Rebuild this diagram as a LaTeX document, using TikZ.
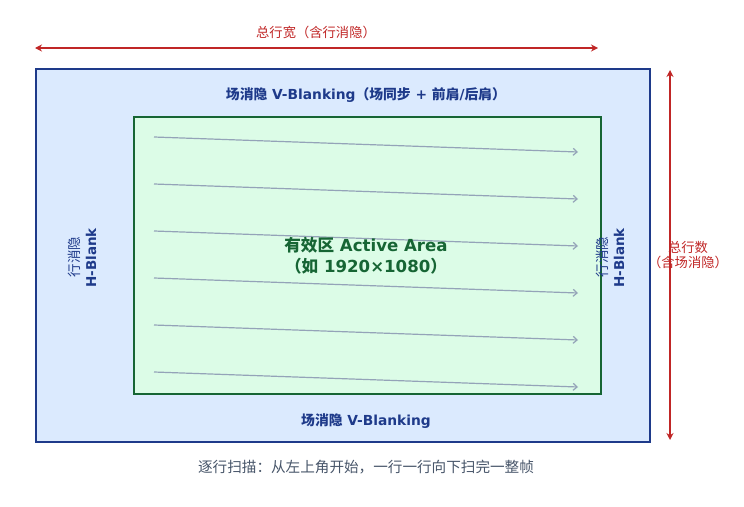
\documentclass[tikz,border=0pt]{standalone}
\usepackage{fontspec}
\setmainfont{DejaVu Sans}
\newfontfamily\cjk{Noto Sans CJK SC}
\usetikzlibrary{arrows.meta}
\definecolor{outerblue}{HTML}{1E3A8A}
\definecolor{outerfill}{HTML}{DBEAFE}
\definecolor{innergreen}{HTML}{166534}
\definecolor{innerfill}{HTML}{DCFCE7}
\definecolor{dimred}{HTML}{C02626}
\definecolor{scangray}{HTML}{94A3B8}
\definecolor{captiongray}{HTML}{475569}
\tikzset{
  outerbox/.style={draw=outerblue,fill=outerfill,line width=2pt},
  innerbox/.style={draw=innergreen,fill=innerfill,line width=2pt},
  dimarrow/.style={draw=dimred,line width=1.9pt,{Stealth[length=7pt,width=7pt]}-{Stealth[length=7pt,width=7pt]}},
  scanline/.style={draw=scangray,line width=1.2pt,-{Straight Barb[length=4pt,width=7pt]}},
  dimlabel/.style={text=dimred,font=\fontsize{13.3}{15}\selectfont\cjk,inner sep=0pt,align=center},
  vlabel/.style={text=outerblue,font=\fontsize{13.8}{15}\selectfont\bfseries,inner sep=0pt},
  hlabel/.style={text=outerblue,font=\fontsize{13.5}{15}\selectfont\bfseries,inner sep=0pt,rotate=90},
  hcjk/.style={text=outerblue,font=\fontsize{13.5}{15}\selectfont\cjk,inner sep=0pt,rotate=90},
  activelabel/.style={text=innergreen,font=\fontsize{16.6}{21}\selectfont\bfseries,inner sep=0pt,align=center},
  caption/.style={text=captiongray,font=\fontsize{14.6}{16}\selectfont\cjk,inner sep=0pt},
}
\begin{document}
\begin{tikzpicture}[x=1pt,y=-1pt]
\useasboundingbox (0,0) rectangle (744,506);
\node[outerbox,minimum width=614pt,minimum height=373pt,anchor=north west,inner sep=0pt] (outer) at (35,68) {};
\node[innerbox,minimum width=467pt,minimum height=277pt,anchor=north west,inner sep=0pt] (inner) at (133,116) {};
% scan lines
\foreach \i in {0,...,5}{
  \coordinate (s\i) at (154,137+47*\i);
  \coordinate (e\i) at (578,152+47*\i);
  \draw[scanline] (s\i) -- (e\i);
}
% dimension arrows
\coordinate (wl) at (35,48);
\coordinate (wr) at (598,48);
\draw[dimarrow] (wl) -- (wr);
\node[dimlabel] (wlab) at (316,32) {总行宽（含行消隐）};
\coordinate (ht) at (670,70);
\coordinate (hb) at (670,440);
\draw[dimarrow] (ht) -- (hb);
\node[dimlabel] (hlab) at (688,255) {总行数\\（含场消隐）};
% labels
\node[vlabel] (vtop) at (366,95) {{\cjk 场消隐} V-Blanking{\cjk （场同步} + {\cjk 前肩}/{\cjk 后肩）}};
\node[vlabel] (vbot) at (366,421) {{\cjk 场消隐} V-Blanking};
\node[hcjk] (lc) at (74,257) {行消隐};
\node[hlabel] (lh) at (91,258) {H-Blank};
\node[hcjk] (rc) at (602,257) {行消隐};
\node[hlabel] (rh) at (619,258) {H-Blank};
\node[activelabel] (act) at (366,256) {{\cjk 有效区} Active Area\\{\cjk （如} 1920×1080{\cjk ）}};
\node[caption] (cap) at (366,467) {逐行扫描：从左上角开始，一行一行向下扫完一整帧};
\end{tikzpicture}
\end{document}
